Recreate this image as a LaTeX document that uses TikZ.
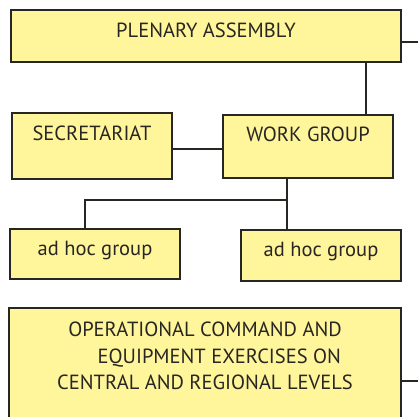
\documentclass[tikz,border=0pt]{standalone}
\usepackage{fontspec}
\setmainfont{PT Sans}
\definecolor{boxfill}{RGB}{255,245,155}
\definecolor{boxline}{RGB}{40,38,34}
\begin{document}
\begin{tikzpicture}[x=1pt, y=-1pt,
		unit/.style={draw=boxline, fill=boxfill, line width=2pt, anchor=north west,
			inner sep=0pt, text=boxline, font=\fontsize{20.5}{26.5}\selectfont},
		link/.style={draw=boxline, line width=1.8pt}]
		\useasboundingbox (0,0) rectangle (418,416);
		\clip (0,0) rectangle (418,416);
		% boxes
		\node[unit, minimum width=390pt, text height=27pt, text depth=25pt] (plenary) at (10,9) {PLENARY ASSEMBLY};
		\node[unit, minimum width=160pt, text height=27pt, text depth=39pt] (secretariat) at (11,112) {SECRETARIAT};
		\node[unit, minimum width=170pt, text height=26pt, text depth=37pt] (workgroup) at (222,114) {WORK GROUP};
		\node[unit, minimum width=170pt, text height=26pt, text depth=24pt] (adhocleft) at (9,228) {ad hoc group};
		\node[unit, minimum width=160pt, text height=26pt, text depth=25pt] (adhocright) at (240,229) {ad hoc group};
		\node[unit, minimum width=392pt, inner ysep=14pt, text depth=90pt, align=center] (exercises) at (8,307)
			{OPERATIONAL COMMAND AND\\\hspace*{1.4em}EQUIPMENT EXERCISES ON\\CENTRAL AND REGIONAL LEVELS};
		% connectors
		\coordinate (plenary exit) at (418,42);
		\coordinate (exercises exit) at (418,381);
		\coordinate (split) at (287,200);
		\draw[link] (plenary exit -| plenary.east) -- (plenary exit);
		\draw[link] ([xshift=-28pt]workgroup.north east |- plenary.south) -- ([xshift=-28pt]workgroup.north east);
		\draw[link] ([yshift=-3pt]secretariat.east) -- ([yshift=-3pt]secretariat.east -| workgroup.west);
		\draw[link] (split |- workgroup.south) -- (split |- adhocright.north);
		\draw[link] (split) -| ([xshift=-10pt]adhocleft.north);
		\draw[link] (exercises exit -| exercises.east) -- (exercises exit);
	\end{tikzpicture}
\end{document}
